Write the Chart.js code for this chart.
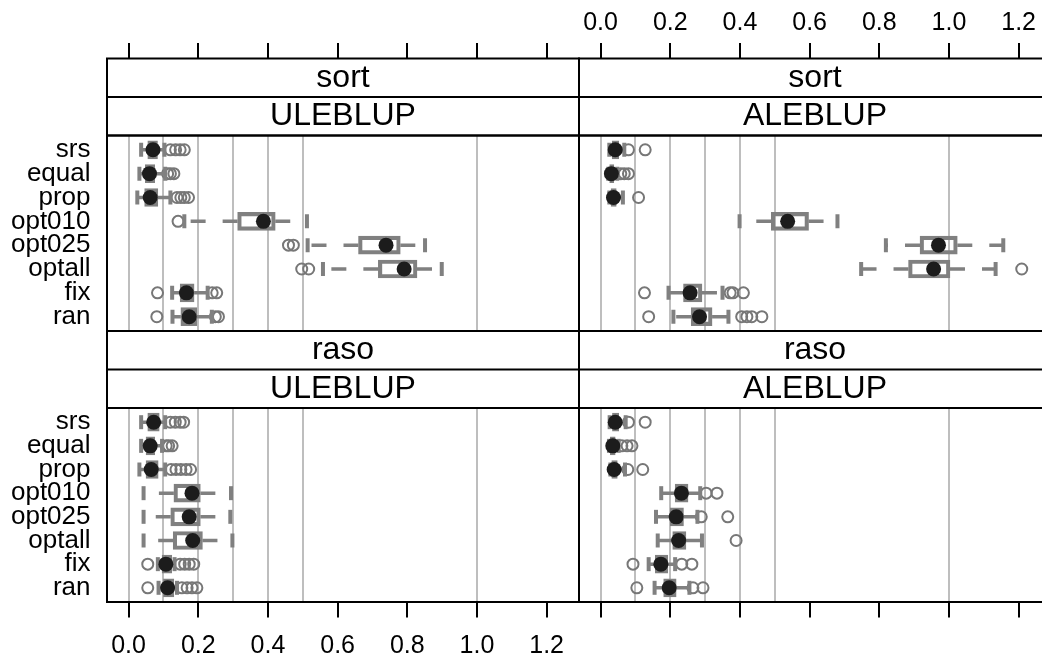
<!DOCTYPE html>
<html>
<head>
<meta charset="utf-8">
<script src="https://cdn.jsdelivr.net/npm/chart.js@4.4.1/dist/chart.umd.min.js"></script>
<style>
  html, body { margin: 0; padding: 0; background: #fff; width: 1042px; height: 657px; overflow: hidden; }
  canvas { position: absolute; }
</style>
</head>
<body>
<canvas id="tl" width="582" height="334" style="left:0;top:0"></canvas>
<canvas id="tr" width="480" height="334" style="left:576px;top:0"></canvas>
<canvas id="bl" width="582" height="329" style="left:0;top:328px"></canvas>
<canvas id="br" width="480" height="329" style="left:576px;top:328px"></canvas>
<script>
const categories = ['srs', 'equal', 'prop', 'opt010', 'opt025', 'optall', 'fix', 'ran'];
const tickValues = [0, 0.2, 0.4, 0.6, 0.8, 1.0, 1.2];
const refLines = [0, 0.1, 0.2, 0.3, 0.4, 0.5, 1.0];
const xMin = -0.062, xMax = 1.293;

// box stats per category: [lower whisker, q1, median, q3, upper whisker]
const sortULE = [
  [0.036, 0.055, 0.070, 0.083, 0.103],
  [0.031, 0.048, 0.060, 0.075, 0.105],
  [0.025, 0.046, 0.062, 0.084, 0.120],
  [0.160, 0.313, 0.387, 0.421, 0.512],
  [0.514, 0.660, 0.739, 0.780, 0.851],
  [0.558, 0.717, 0.791, 0.828, 0.899],
  [0.125, 0.148, 0.166, 0.188, 0.227],
  [0.126, 0.150, 0.174, 0.196, 0.239]
];
const sortULEOut = [
  [0.12, 0.135, 0.148, 0.16], [0.112, 0.12, 0.13], [0.139, 0.15, 0.16, 0.172], [0.142],
  [0.459, 0.473], [0.497, 0.517], [0.083, 0.24, 0.253], [0.081, 0.249, 0.258]
];

const sortALE = [
  [0.025, 0.033, 0.042, 0.052, 0.068],
  [0.022, 0.026, 0.031, 0.038, 0.048],
  [0.025, 0.030, 0.037, 0.045, 0.064],
  [0.399, 0.490, 0.537, 0.597, 0.680],
  [0.819, 0.917, 0.970, 1.024, 1.156],
  [0.748, 0.884, 0.956, 1.003, 1.134],
  [0.195, 0.238, 0.257, 0.291, 0.350],
  [0.209, 0.260, 0.284, 0.320, 0.367]
];
const sortALEOut = [
  [0.08, 0.128], [0.058, 0.068, 0.08], [0.109], [],
  [], [1.209], [0.126, 0.372, 0.38, 0.41], [0.138, 0.405, 0.42, 0.434, 0.463]
];

const rasoULE = [
  [0.036, 0.055, 0.072, 0.088, 0.105],
  [0.036, 0.050, 0.062, 0.075, 0.096],
  [0.031, 0.050, 0.065, 0.085, 0.105],
  [0.043, 0.130, 0.182, 0.206, 0.294],
  [0.043, 0.121, 0.174, 0.206, 0.292],
  [0.043, 0.128, 0.184, 0.212, 0.298],
  [0.084, 0.096, 0.107, 0.124, 0.132],
  [0.086, 0.100, 0.112, 0.130, 0.139]
];
const rasoULEOut = [
  [0.12, 0.134, 0.148, 0.158], [0.108, 0.115, 0.125], [0.122, 0.136, 0.15, 0.165, 0.178], [],
  [], [], [0.055, 0.148, 0.161, 0.174, 0.187], [0.055, 0.153, 0.168, 0.182, 0.196]
];

const rasoALE = [
  [0.026, 0.034, 0.042, 0.052, 0.072],
  [0.024, 0.028, 0.035, 0.042, 0.052],
  [0.028, 0.032, 0.039, 0.048, 0.070],
  [0.174, 0.214, 0.232, 0.251, 0.286],
  [0.159, 0.200, 0.217, 0.238, 0.278],
  [0.164, 0.207, 0.224, 0.245, 0.291],
  [0.138, 0.157, 0.173, 0.193, 0.214],
  [0.155, 0.181, 0.197, 0.217, 0.255]
];
const rasoALEOut = [
  [0.08, 0.128], [0.061, 0.076, 0.09], [0.078, 0.121], [0.303, 0.334],
  [0.289, 0.365], [0.389], [0.093, 0.233, 0.262], [0.104, 0.265, 0.294]
];

const GRAY = '#808080';
Chart.defaults.font.family = "'Liberation Sans', Arial, sans-serif";
Chart.defaults.color = '#000';

// panel frame + strip boxes
const framePlugin = {
  id: 'frame',
  afterDraw(chart) {
    const { ctx, chartArea: a } = chart;
    const t = chart.titleBlock;
    ctx.save();
    ctx.strokeStyle = '#000';
    ctx.lineWidth = 2;
    ctx.strokeRect(a.left, a.top, a.right - a.left, a.bottom - a.top);
    ctx.strokeRect(a.left, t.top, a.right - a.left, a.top - t.top);
    ctx.beginPath();
    ctx.moveTo(a.left, t.bottom);
    ctx.lineTo(a.right, t.bottom);
    ctx.stroke();
    ctx.restore();
  }
};

function noPad(s) {
  s.paddingLeft = 0; s.paddingRight = 0; s.paddingTop = 0; s.paddingBottom = 0;
}

function makePanel(id, stats, outs, strip, cfg) {
  const whiskers = [], caps = [], boxes = [], medians = [], outliers = [];
  stats.forEach((s, i) => {
    const y = i + 1;
    whiskers.push({ x: s[1], y }, { x: s[0], y }, { x: null, y }, { x: s[3], y }, { x: s[4], y }, { x: null, y });
    caps.push({ x: s[0], y }, { x: s[4], y });
    boxes.push({ x: [s[1], s[3]], y });
    medians.push({ x: s[2], y });
    outs[i].forEach(v => outliers.push({ x: v, y }));
  });

  new Chart(document.getElementById(id), {
    type: 'scatter',
    data: {
      datasets: [
        { data: medians, pointRadius: 7.5, backgroundColor: '#1c1c1c', borderWidth: 0 },
        { data: caps, pointStyle: 'line', pointRotation: 90, pointRadius: 7, borderColor: GRAY, borderWidth: 4 },
        { type: 'bar', indexAxis: 'y', data: boxes, barThickness: 18, borderWidth: 3.5, borderColor: GRAY,
          backgroundColor: 'rgba(0,0,0,0)', borderSkipped: false },
        { type: 'line', data: whiskers, borderColor: GRAY, borderWidth: 3.5, borderDash: [15, 17],
          pointRadius: 0, spanGaps: false, tension: 0 },
        { data: outliers, pointRadius: 5.5, backgroundColor: 'rgba(0,0,0,0)', borderColor: '#777', borderWidth: 2 }
      ]
    },
    options: {
      responsive: false,
      animation: false,
      devicePixelRatio: 1,
      events: [],
      layout: { padding: cfg.padding, autoPadding: false },
      plugins: {
        legend: { display: false },
        tooltip: { enabled: false },
        title: { display: true, text: strip[0], fullSize: false, font: { size: 32, weight: 'normal' },
          color: '#000', padding: { top: 0.1, bottom: 0 } },
        subtitle: { display: true, text: strip[1], fullSize: false, font: { size: 32, weight: 'normal' },
          color: '#000', padding: { top: 0.1, bottom: 0 } }
      },
      scales: {
        x: {
          type: 'linear', position: cfg.axis, weight: cfg.axis === 'top' ? 3000 : 0,
          min: xMin, max: xMax, beginAtZero: false,
          afterBuildTicks: s => { s.ticks = tickValues.map(v => ({ value: v })); },
          afterFit: s => { s.height = cfg.axisHeight; noPad(s); },
          grid: { drawOnChartArea: false, drawTicks: true, tickLength: 15.5, color: '#000', lineWidth: 2 },
          border: { display: false },
          ticks: { display: cfg.axisLabels, padding: cfg.axis === 'top' ? 5 : 13.5, font: { size: 25 },
            color: '#000', maxRotation: 0, autoSkip: false, callback: v => v.toFixed(1) }
        },
        xg: {
          type: 'linear', position: 'bottom', min: xMin, max: xMax,
          afterBuildTicks: s => { s.ticks = refLines.map(v => ({ value: v })); },
          afterFit: s => { s.height = 0; noPad(s); },
          grid: { drawOnChartArea: true, drawTicks: false, color: '#bebebe', lineWidth: 2 },
          border: { display: false },
          ticks: { display: false }
        },
        y: {
          type: 'linear', display: cfg.yLabels, min: 0.4, max: 8.6, reverse: true, offset: false,
          afterBuildTicks: s => { s.ticks = categories.map((c, i) => ({ value: i + 1 })); },
          afterFit: s => { if (cfg.yLabels) s.width = 107; noPad(s); },
          grid: { display: false, drawTicks: false, offset: false },
          border: { display: false },
          ticks: { padding: 16.5, font: { size: 26 }, color: '#000', autoSkip: false,
            callback: v => categories[v - 1] }
        }
      }
    },
    plugins: [framePlugin]
  });
}

makePanel('tl', sortULE, sortULEOut, ['sort', 'ULEBLUP'],
  { axis: 'top', axisLabels: false, axisHeight: 58.5, yLabels: true, padding: { left: 0, top: 0, right: 3, bottom: 3 } });
makePanel('tr', sortALE, sortALEOut, ['sort', 'ALEBLUP'],
  { axis: 'top', axisLabels: true, axisHeight: 58.5, yLabels: false, padding: { left: 3, top: 0, right: 5, bottom: 3 } });
makePanel('bl', rasoULE, rasoULEOut, ['raso', 'ULEBLUP'],
  { axis: 'bottom', axisLabels: true, axisHeight: 55, yLabels: true, padding: { left: 0, top: 3, right: 3, bottom: 0 } });
makePanel('br', rasoALE, rasoALEOut, ['raso', 'ALEBLUP'],
  { axis: 'bottom', axisLabels: false, axisHeight: 55, yLabels: false, padding: { left: 3, top: 3, right: 5, bottom: 0 } });
</script>
</body>
</html>
